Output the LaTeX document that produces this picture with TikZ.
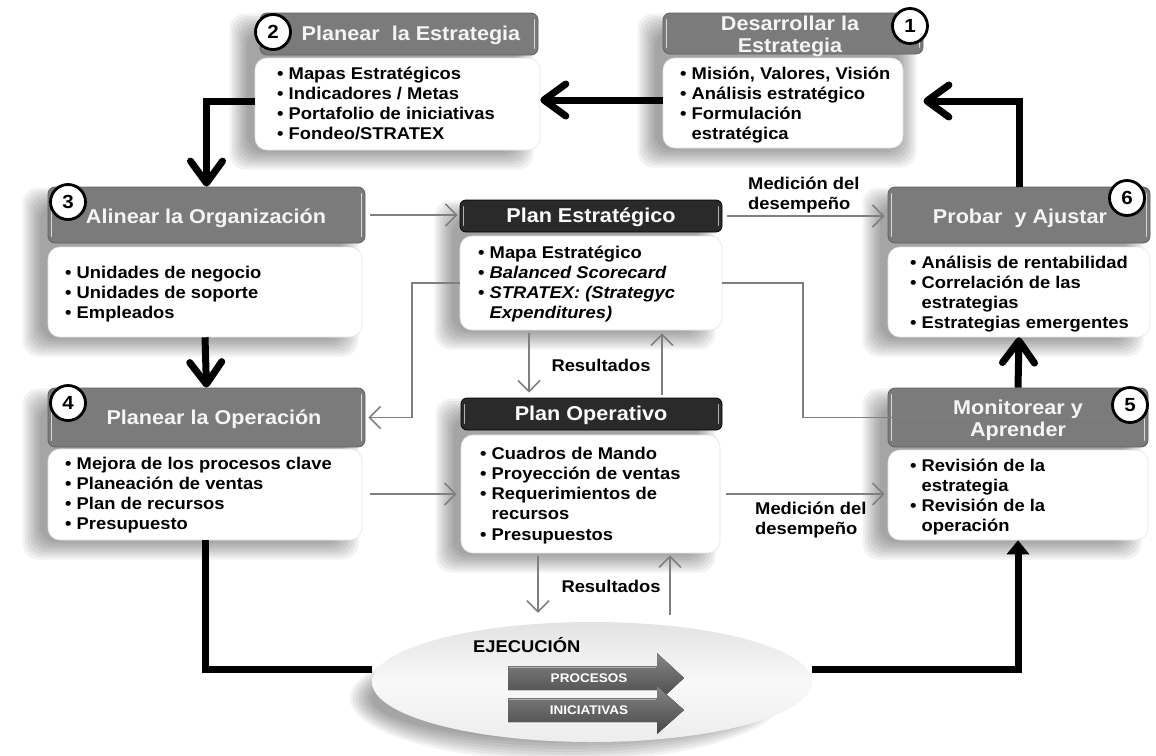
\documentclass[tikz,border=0pt]{standalone}
\usepackage{fontspec}
\setmainfont{Liberation Sans}
\newfontfamily\bfam[FakeStretch=1.08]{Liberation Sans}
\usetikzlibrary{arrows.meta,fit,calc,shapes.geometric}
\definecolor{hdr}{HTML}{7B7B7B}
\definecolor{hdrline}{HTML}{606060}
\definecolor{hdrdk}{HTML}{2A2A2A}
\definecolor{thin}{HTML}{7F7F7F}
\definecolor{htext}{HTML}{F4F4F4}
\newcommand\hfont{\bfam\bfseries\fontsize{20}{22}\selectfont}
\newcommand\tfont{\bfam\bfseries\fontsize{17}{20.3}\selectfont}
\newcommand\nfont{\bfam\bfseries\fontsize{19}{20}\selectfont}
\newcommand\sfont{\bfam\bfseries\fontsize{12.5}{14}\selectfont}
\newcommand\ind{\phantom{•\ }}
\newcommand\softshadow[4]{%
  \foreach \k in {0,...,7}{%
    \pgfmathsetmacro\e{2.5*\k-8}%
    \pgfmathsetmacro\xa{#1-16-(\e)}\pgfmathsetmacro\ya{#2+10-(\e)}%
    \pgfmathsetmacro\xb{#3-16+(\e)}\pgfmathsetmacro\yb{#4+10+(\e)}%
    \fill[black,opacity=0.05,rounded corners=16pt] (\xa,\ya) rectangle (\xb,\yb);}}
\newcommand\bevel[2]{%
  \draw[#2, line width=1.2pt, line cap=round] ([xshift=4pt,yshift=-7pt]#1.north west) -- ([xshift=4pt,yshift=7pt]#1.south west);
  \draw[#2, line width=1.2pt, line cap=round] ([xshift=-4pt,yshift=-7pt]#1.north east) -- ([xshift=-4pt,yshift=7pt]#1.south east);}
\tikzset{
  hdrbox/.style={fill=hdr, draw=hdrline, line width=0.8pt, rounded corners=7pt, inner sep=0pt},
  dkbox/.style={fill=hdrdk, draw=black, line width=0.8pt, rounded corners=6pt, inner sep=0pt},
  bodybox/.style={fill=white, draw=gray!20, line width=0.6pt, rounded corners=12pt, inner sep=0pt},
  htxt/.style={font=\hfont, text=htext, align=center, inner sep=0pt},
  txt/.style={font=\tfont, text=black, inner sep=0pt, anchor=base west},
  lbl/.style={font=\tfont, text=black, inner sep=0pt},
  num/.style={circle, draw=black, line width=2.8pt, fill=white, minimum size=35pt, inner sep=0pt, font=\nfont},
  thickl/.style={line width=7pt, draw=black},
  bigtip/.style={-{Straight Barb[length=22pt,width=32pt,round]}},
  thinl/.style={draw=thin, line width=1.6pt},
  smalltip/.style={-{Straight Barb[length=11pt,width=22pt]}},
}
\begin{document}
\begin{tikzpicture}[x=1pt,y=-1pt]
\fill[white] (0,0) rectangle (1156,755);
\useasboundingbox (0,0) rectangle (1156,755);

% shadows
\softshadow{255}{13}{540}{150}
\softshadow{663}{13}{923}{148}
\softshadow{48}{187}{365}{337}
\softshadow{48}{388}{365}{540}
\softshadow{460}{200}{722}{330}
\softshadow{461}{398}{722}{553}
\softshadow{888}{187}{1150}{337}
\softshadow{888}{388}{1148}{540}
\foreach \k in {0,...,7}{%
  \pgfmathsetmacro\e{3*\k-10}%
  \fill[black,opacity=0.05] (566,698) ellipse [x radius=205+\e, y radius=52+\e];}

% boxes (nodes)
\node[bodybox, fit={(255,58) (540,150)}] (b2b) {};
\node[hdrbox, fit={(260,13) (538,55)}] (b2h) {};
\node[bodybox, fit={(663,58) (903,148)}] (b1b) {};
\node[hdrbox, fit={(663,13) (923,54)}] (b1h) {};
\node[bodybox, fit={(48,247) (362,337)}] (b3b) {};
\node[hdrbox, fit={(48,187) (365,243)}] (b3h) {};
\node[bodybox, fit={(48,449) (362,540)}] (b4b) {};
\node[hdrbox, fit={(48,388) (365,447)}] (b4h) {};
\node[bodybox, fit={(460,236) (722,330)}] (peb) {};
\node[dkbox, fit={(460,200) (722,232)}] (peh) {};
\node[bodybox, fit={(461,435) (720,553)}] (pob) {};
\node[dkbox, fit={(461,398) (722,430)}] (poh) {};
\node[bodybox, fit={(888,247) (1150,337)}] (b6b) {};
\node[hdrbox, fit={(888,187) (1150,243)}] (b6h) {};
\node[bodybox, fit={(888,450) (1148,540)}] (b5b) {};
\node[hdrbox, fit={(888,388) (1148,447)}] (b5h) {};
\node[ellipse, minimum width=440pt, minimum height=120pt, inner sep=0pt,
      top color=gray!22, bottom color=gray!14, middle color=gray!5] (ell) at (592,682) {};

\bevel{b2h}{gray!30}\bevel{b1h}{gray!30}\bevel{b3h}{gray!30}\bevel{b4h}{gray!30}
\bevel{b6h}{gray!30}\bevel{b5h}{gray!30}\bevel{peh}{gray!60}\bevel{poh}{gray!60}

% named bend coordinates
\coordinate (kl) at (412,0);
\coordinate (kr) at (803,0);

% thick connectors
\draw[thickl,bigtip] (b1b.west |- 0,100) -- (b2b.east |- 0,100);
\draw[thickl,bigtip] (b2b.west |- 0,101) -| (b3h.north);
\draw[thickl,bigtip] (b3b.south) -- (b4h.north);
\draw[thickl] (b4b.south) |- (ell.west |- 0,669);
\draw[thickl,-{Triangle[length=14pt,width=22pt]}] (ell.east |- 0,669) -| (b5b.south);
\draw[thickl,bigtip] (b5h.north) -- (b6b.south);
\draw[thickl,bigtip] (b6h.north) |- (b1h.east |- 0,101);

% thin connectors
\draw[thinl,smalltip,shorten <=5pt,shorten >=2pt] (b3h.east) -- (peh.west |- b3h.east);
\draw[thinl,smalltip,shorten <=5pt,shorten >=3pt] (peh.east) -- (b6h.west |- peh.east);
\draw[thinl,smalltip,shorten >=3pt] (peb.west) -- (kl |- peb.west) -- (kl |- b4h.east) -- (b4h.east);
\draw[thinl,smalltip,shorten >=3pt] (peb.east) -- (kr |- peb.east) -- (kr |- b5h.east) -- (b5h.east);
\draw[thinl,smalltip,shorten <=8pt,shorten >=4pt] (b4b.east |- 0,494) -- (pob.west |- 0,494);
\draw[thinl,smalltip,shorten <=6pt,shorten >=3pt] (pob.east |- 0,494) -- (b5b.west |- 0,494);
\draw[thinl,smalltip,shorten <=3pt,shorten >=5pt] (peb.south -| 529,0) -- (poh.north -| 529,0);
\draw[thinl,smalltip,shorten <=3pt,shorten >=3pt] (poh.north -| 662,0) -- (peb.south -| 662,0);
\draw[thinl,smalltip,shorten <=3pt,shorten >=9pt] (pob.south -| 538,0) -- (ell.north -| 538,0);
\draw[thinl,smalltip,shorten <=7pt,shorten >=2pt] (ell.north -| 670,0) -- (pob.south -| 670,0);

% header titles
\node[htxt] (b2t) at (411,35) {Planear\ \ la Estrategia};
\node[htxt] (b1t) at (790,36) {Desarrollar la\\Estrategia};
\node[htxt] (b3t) at (206,218) {Alinear la Organización};
\node[htxt] (b4t) at (214,419) {Planear la Operación};
\node[htxt, text=white] (pet) at (591,217) {Plan Estratégico};
\node[htxt, text=white] (pot) at (591,415) {Plan Operativo};
\node[htxt] (b6t) at (1020,218) {Probar\ \ y Ajustar};
\node[htxt] (b5t) at (1018,420) {Monitorear y\\Aprender};

% numbers
\node[num] (c2) at (273,32) {2};
\node[num] (c1) at (910,26) {1};
\node[num] (c3) at (68,202) {3};
\node[num] (c4) at (68,403) {4};
\node[num] (c6) at (1127,198) {6};
\node[num] (c5) at (1130,405) {5};

% body texts
\node[txt] (b2x) at (277,79) {\parbox[t]{300pt}{\raggedright • Mapas Estratégicos\\• Indicadores / Metas\\• Portafolio de iniciativas\\• Fondeo/STRATEX}};
\node[txt] (b1x) at (680,79) {\parbox[t]{300pt}{\raggedright • Misión, Valores, Visión\\• Análisis estratégico\\• Formulación\\\ind estratégica}};
\node[txt] (b3x) at (65,278) {\parbox[t]{300pt}{\raggedright • Unidades de negocio\\• Unidades de soporte\\• Empleados}};
\node[txt] (b4x) at (65,469) {\parbox[t]{300pt}{\raggedright • Mejora de los procesos clave\\• Planeación de ventas\\• Plan de recursos\\• Presupuesto}};
\node[txt] (pex) at (478,258) {\parbox[t]{300pt}{\raggedright • Mapa Estratégico\\• \textit{Balanced Scorecard}\\• \textit{STRATEX: (Strategyc}\\\ind\textit{Expenditures)}}};
\node[txt] (pox) at (480,459) {\parbox[t]{300pt}{\raggedright • Cuadros de Mando\\• Proyección de ventas\\• Requerimientos de\\\ind recursos\\• Presupuestos}};
\node[txt] (b6x) at (910,268) {\parbox[t]{300pt}{\raggedright • Análisis de rentabilidad\\• Correlación de las\\\ind estrategias\\• Estrategias emergentes}};
\node[txt] (b5x) at (910,471) {\parbox[t]{300pt}{\raggedright • Revisión de la\\\ind estrategia\\• Revisión de la\\\ind operación}};

% labels
\node[txt] (m1) at (748,189) {\parbox[t]{140pt}{\raggedright Medición del\\desempeño}};
\node[txt] (m2) at (755,514) {\parbox[t]{140pt}{\raggedright Medición del\\desempeño}};
\node[lbl] (r1) at (601,365) {Resultados};
\node[lbl] (r2) at (611,586) {Resultados};

% execution
\node[lbl, anchor=west] (ej) at (473,645) {EJECUCIÓN};
\fill[top color=black!48, bottom color=black!72] (508,666) -- (657,666) -- (657,653) -- (684,678) -- (657,703) -- (657,690) -- (508,690) -- cycle;
\fill[top color=black!48, bottom color=black!72] (508,698) -- (657,698) -- (657,686) -- (684,710) -- (657,734) -- (657,722) -- (508,722) -- cycle;
\draw[white!70!black, line width=0.8pt] (509,667) -- (656,667);
\draw[white!70!black, line width=0.8pt] (509,699) -- (656,699);
\node[font=\sfont, text=white, inner sep=0pt] (pr) at (589,678) {PROCESOS};
\node[font=\sfont, text=white, inner sep=0pt] (in) at (589,710) {INICIATIVAS};
\end{tikzpicture}
\end{document}
